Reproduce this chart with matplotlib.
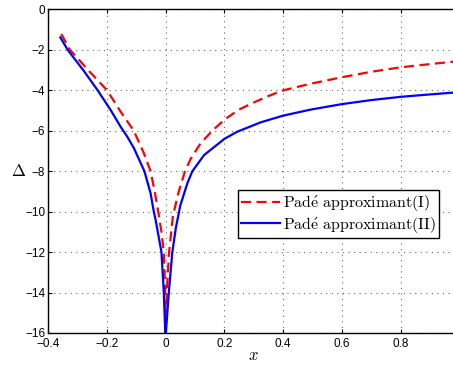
import numpy as np
import matplotlib.pyplot as plt

plt.rcParams['mathtext.fontset'] = 'cm'
plt.rcParams['font.family'] = ['Liberation Sans', 'DejaVu Sans']

# Pade approximant (I)
x_pade1 = [-0.355, -0.325, -0.26, -0.199, -0.153, -0.108, -0.074,
           -0.051, -0.037, -0.025, -0.014, -0.006, -0.001, 0.0,
           0.004, 0.012, 0.025, 0.045, 0.066, 0.085, 0.119, 0.159, 0.2,
           0.25, 0.3, 0.35, 0.4, 0.488, 0.6, 0.7, 0.8, 0.9, 0.98]
d_pade1 = [-1.21, -2.0, -3.05, -4.0, -5.05, -6.0, -7.1,
           -8.0, -9.0, -10.0, -11.0, -12.0, -14.0, -16.0,
           -14.0, -12.0, -10.2, -9.0, -8.0, -7.4, -6.62, -6.0, -5.45,
           -4.95, -4.6, -4.28, -4.0, -3.69, -3.35, -3.08, -2.86, -2.7, -2.58]

# Pade approximant (II)
x_pade2 = [-0.358, -0.333, -0.28, -0.231, -0.187, -0.153, -0.13, -0.108,
           -0.072, -0.051, -0.04, -0.034, -0.024, -0.014, -0.006, -0.001,
           0.001, 0.011, 0.023, 0.035, 0.05, 0.074, 0.091, 0.131, 0.2,
           0.243, 0.324, 0.4, 0.494, 0.6, 0.7, 0.8, 0.9, 0.98]
d_pade2 = [-1.38, -2.0, -3.0, -4.0, -4.97, -5.8, -6.3, -6.85,
           -8.0, -9.09, -10.0, -10.4, -11.2, -12.0, -14.0, -16.0,
           -16.0, -14.0, -12.0, -10.8, -9.7, -8.6, -8.0, -7.2, -6.4,
           -6.05, -5.58, -5.25, -4.95, -4.68, -4.48, -4.32, -4.2, -4.11]

xticks = [-0.4, -0.2, 0, 0.2, 0.4, 0.6, 0.8]
xticklabels = ['\u22120.4', '\u22120.2', '0', '0.2', '0.4', '0.6', '0.8']
yticks = [0, -2, -4, -6, -8, -10, -12, -14, -16]
yticklabels = ['0'] + ['\u2212%d' % abs(v) for v in yticks[1:]]

fig = plt.figure(figsize=(4.53, 3.65), dpi=100)
ax = fig.add_axes([0.106, 0.0877, 0.9083, 0.8863])

ax.plot(x_pade1, d_pade1, color='red', ls='--', lw=1.6, dashes=(4.5, 2.5),
        label=r'$\mathrm{Pad\acute{e}\ approximant(I)}$')
ax.plot(x_pade2, d_pade2, color='blue', ls='-', lw=1.6,
        label=r'$\mathrm{Pad\acute{e}\ approximant(II)}$')

ax.set_xlim(-0.4, 1.0)
ax.set_ylim(-16, 0)
ax.set_xticks(xticks)
ax.set_xticklabels(xticklabels)
ax.set_yticks(yticks)
ax.set_yticklabels(yticklabels)
ax.tick_params(direction='in', top=True, right=True, labelsize=8.5, length=3)
ax.tick_params(axis='x', pad=3.5)
ax.tick_params(axis='y', pad=2)
ax.grid(True, linestyle=(0, (1, 4)), color='#666666', linewidth=0.8)
for s in ax.spines.values():
    s.set_linewidth(1.0)

ax.set_xlabel(r'$x$', fontsize=12, labelpad=-1)
ax.set_ylabel(r'$\Delta$', fontsize=12, rotation=0, labelpad=5, va='center')

leg = ax.legend(loc='upper left', bbox_to_anchor=(0.462, 0.442), borderaxespad=0,
                fontsize=11.5, fancybox=False, framealpha=1, edgecolor='black',
                borderpad=0.2, handlelength=2.4, handletextpad=0.2, labelspacing=0.1)
leg.get_frame().set_linewidth(1.0)

fig.savefig('out.png', dpi=100)
